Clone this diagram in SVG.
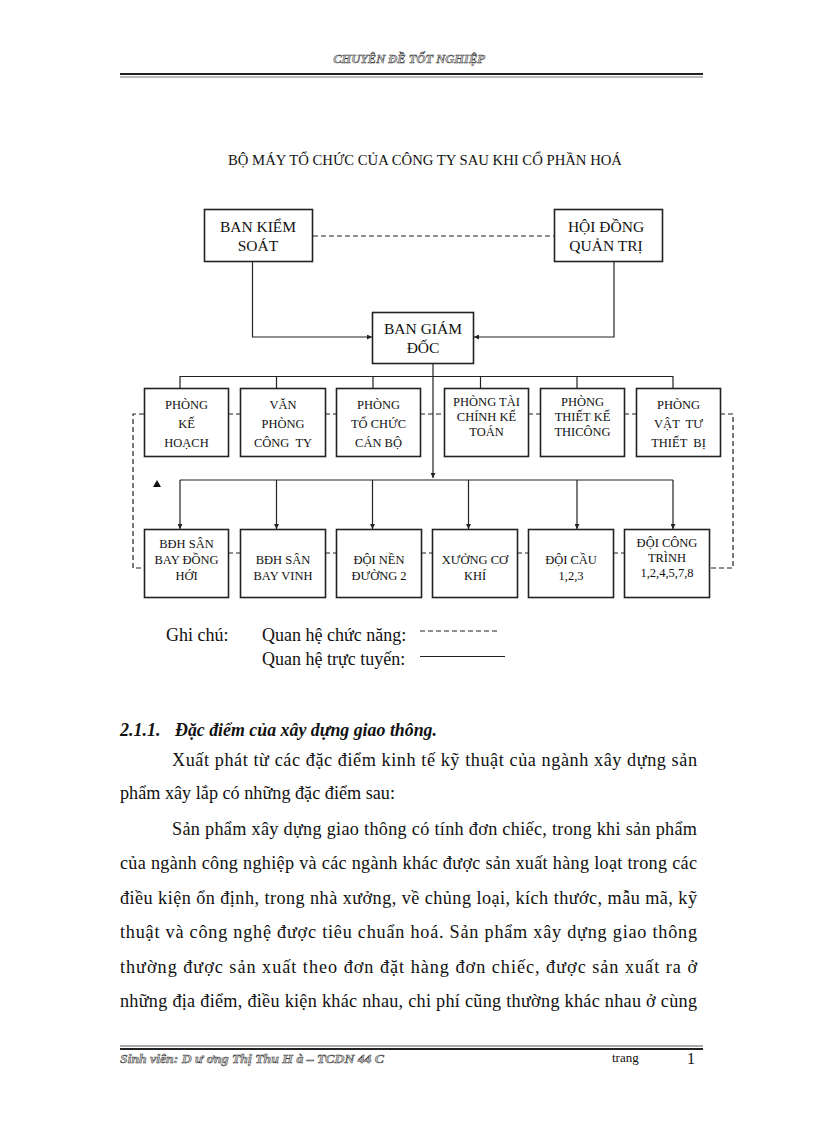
<svg xmlns="http://www.w3.org/2000/svg" width="816" height="1123" viewBox="0 0 816 1123">
<style>
.box{fill:#fff;stroke:#222;stroke-width:1.6}
.solid{fill:none;stroke:#222;stroke-width:1.2}
.dash{fill:none;stroke:#222;stroke-width:1.2;stroke-dasharray:5 3}
.bt{font-family:"Liberation Serif",serif;font-size:15.5px;fill:#111;text-anchor:middle}
.st{font-family:"Liberation Serif",serif;font-size:12.5px;fill:#111;text-anchor:middle}
.body{font-family:"Liberation Serif",serif;font-size:18.2px;fill:#111}
.hdr{font-family:"Liberation Serif",serif;font-style:italic;font-weight:bold;fill:#c8c8c8;stroke:#333;stroke-width:0.45}
</style>
<defs>
<marker id="ah" viewBox="0 0 6 6" refX="6" refY="3" markerWidth="5" markerHeight="5" orient="auto" markerUnits="userSpaceOnUse">
<path d="M0,0 L6,3 L0,6 Z" fill="#222"/>
</marker>
</defs>
<rect width="816" height="1123" fill="#fff"/>

<!-- page header -->
<text class="hdr" x="409" y="63" font-size="12.5" text-anchor="middle">CHUYÊN ĐỀ TỐT NGHIỆP</text>
<line x1="120" y1="74" x2="703" y2="74" stroke="#222" stroke-width="2"/>
<line x1="120" y1="77" x2="703" y2="77" stroke="#777" stroke-width="1"/>

<text x="425" y="165" font-family="Liberation Serif, serif" font-size="14" fill="#111" text-anchor="middle" textLength="394" lengthAdjust="spacingAndGlyphs">BỘ MÁY TỔ CHỨC CỦA CÔNG TY SAU KHI CỔ PHẦN HOÁ</text>

<!-- connectors -->
<g id="connectors">
<line class="dash" x1="313" y1="236" x2="554" y2="236"/>
<path class="solid" d="M252.5 261 V337 H372" marker-end="url(#ah)"/>
<path class="solid" d="M614 261 V337 H474" marker-end="url(#ah)"/>
<path class="solid" d="M433 363 V478" marker-end="url(#ah)"/>
<path class="solid" d="M180 388 V376.5 H673 V388 M276.5 376.5 V388 M373 376.5 V388 M480.5 376.5 V388 M577 376.5 V388"/>
<line class="solid" x1="180" y1="480" x2="673" y2="480" stroke-width="1.8"/>
<path class="solid" d="M180 480 V529" marker-end="url(#ah)"/>
<path class="solid" d="M276.5 480 V529" marker-end="url(#ah)"/>
<path class="solid" d="M372.5 480 V529" marker-end="url(#ah)"/>
<path class="solid" d="M468.5 480 V529" marker-end="url(#ah)"/>
<path class="solid" d="M577 480 V529" marker-end="url(#ah)"/>
<path class="solid" d="M673 480 V529" marker-end="url(#ah)"/>
<path d="M153 487 L157 480 L161 487 Z" fill="#111"/>
<!-- functional (dashed) links -->
<path class="dash" d="M228 414 H240 M325 414 H336 M420 414 H444 M528 414 H540 M624 414 H636"/>
<path class="dash" d="M144 414 H133 V568 H144"/>
<path class="dash" d="M720 414 H733 V568 H709"/>
<path class="dash" d="M228 553 H240 M325 553 H336 M421 553 H432 M517 553 H528 M613 553 H624"/>
</g>

<!-- top nodes -->
<g id="ban-kiem-soat">
<rect class="box" x="204.5" y="209.5" width="108" height="52"/>
<text class="bt" x="258" y="232">BAN KIỂM</text>
<text class="bt" x="258" y="251">SOÁT</text>
</g>
<g id="hoi-dong-quan-tri">
<rect class="box" x="554.5" y="209.5" width="108" height="52"/>
<text class="bt" x="606" y="232">HỘI ĐỒNG</text>
<text class="bt" x="606" y="251">QUẢN TRỊ</text>
</g>
<g id="ban-giam-doc">
<rect class="box" x="372.5" y="312.5" width="101" height="51"/>
<text class="bt" x="423" y="334">BAN GIÁM</text>
<text class="bt" x="423" y="353">ĐỐC</text>
</g>

<!-- row 1 -->
<g id="phong-ke-hoach">
<rect class="box" x="144.5" y="388.5" width="84" height="68"/>
<text class="st" x="186.5" y="409">PHÒNG</text>
<text class="st" x="186.5" y="428">KẾ</text>
<text class="st" x="186.5" y="447">HOẠCH</text>
</g>
<g id="van-phong-cong-ty">
<rect class="box" x="240.5" y="388.5" width="85" height="68"/>
<text class="st" x="283" y="409">VĂN</text>
<text class="st" x="283" y="428">PHÒNG</text>
<text class="st" x="283" y="447" xml:space="preserve">CÔNG  TY</text>
</g>
<g id="phong-to-chuc-can-bo">
<rect class="box" x="336.5" y="388.5" width="84" height="68"/>
<text class="st" x="378.5" y="409">PHÒNG</text>
<text class="st" x="378.5" y="428">TỔ CHỨC</text>
<text class="st" x="378.5" y="447">CÁN BỘ</text>
</g>
<g id="phong-tai-chinh-ke-toan">
<rect class="box" x="444.5" y="388.5" width="84" height="68"/>
<text class="st" x="486.5" y="406">PHÒNG TÀI</text>
<text class="st" x="486.5" y="421">CHÍNH KẾ</text>
<text class="st" x="486.5" y="436">TOÁN</text>
</g>
<g id="phong-thiet-ke-thi-cong">
<rect class="box" x="540.5" y="388.5" width="84" height="68"/>
<text class="st" x="582.5" y="406">PHÒNG</text>
<text class="st" x="582.5" y="421">THIẾT KẾ</text>
<text class="st" x="582.5" y="436">THICÔNG</text>
</g>
<g id="phong-vat-tu-thiet-bi">
<rect class="box" x="636.5" y="388.5" width="84" height="68"/>
<text class="st" x="678.5" y="409">PHÒNG</text>
<text class="st" x="678.5" y="428" xml:space="preserve">VẬT  TƯ</text>
<text class="st" x="678.5" y="447" xml:space="preserve">THIẾT  BỊ</text>
</g>

<!-- row 2 -->
<g id="bdh-dong-hoi">
<rect class="box" x="144.5" y="529.5" width="84" height="68"/>
<text class="st" x="186.5" y="548">BĐH SÂN</text>
<text class="st" x="186.5" y="564">BAY ĐỒNG</text>
<text class="st" x="186.5" y="580">HỚI</text>
</g>
<g id="bdh-vinh">
<rect class="box" x="240.5" y="529.5" width="85" height="68"/>
<text class="st" x="283" y="564">BĐH SÂN</text>
<text class="st" x="283" y="580">BAY VINH</text>
</g>
<g id="doi-nen-duong">
<rect class="box" x="336.5" y="529.5" width="85" height="68"/>
<text class="st" x="379" y="564">ĐỘI NỀN</text>
<text class="st" x="379" y="580">ĐƯỜNG 2</text>
</g>
<g id="xuong-co-khi">
<rect class="box" x="432.5" y="529.5" width="85" height="68"/>
<text class="st" x="475" y="564">XƯỞNG CƠ</text>
<text class="st" x="475" y="580">KHÍ</text>
</g>
<g id="doi-cau">
<rect class="box" x="528.5" y="529.5" width="85" height="68"/>
<text class="st" x="571" y="564">ĐỘI CẦU</text>
<text class="st" x="571" y="580">1,2,3</text>
</g>
<g id="doi-cong-trinh">
<rect class="box" x="624.5" y="529.5" width="85" height="68"/>
<text class="st" x="667" y="547">ĐỘI CÔNG</text>
<text class="st" x="667" y="562">TRÌNH</text>
<text class="st" x="667" y="577">1,2,4,5,7,8</text>
</g>

<!-- legend -->
<g id="legend" font-family="Liberation Serif, serif" font-size="18" fill="#111">
<text x="166" y="641">Ghi chú:</text>
<text x="262" y="641">Quan hệ chức năng:</text>
<text x="262" y="665">Quan hệ trực tuyến:</text>
<line class="dash" x1="420" y1="631" x2="500" y2="631" stroke-dasharray="4 3"/>
<line x1="420" y1="656.5" x2="505" y2="656.5" stroke="#222" stroke-width="1.2"/>
</g>

<!-- body text -->
<text x="120" y="736" font-family="Liberation Serif, serif" font-size="18" font-weight="bold" font-style="italic" fill="#111">2.1.1.</text>
<text x="175" y="736" font-family="Liberation Serif, serif" font-size="18" font-weight="bold" font-style="italic" fill="#111" textLength="262" lengthAdjust="spacingAndGlyphs">Đặc điểm của xây dựng giao thông.</text>
<text class="body" x="172" y="766" textLength="525" lengthAdjust="spacing">Xuất phát từ các đặc điểm kinh tế kỹ thuật của ngành xây dựng sản</text>
<text class="body" x="120" y="799">phẩm xây lắp có những đặc điểm sau:</text>
<text class="body" x="172" y="835" textLength="525" lengthAdjust="spacing">Sản phẩm xây dựng giao thông có tính đơn chiếc, trong khi sản phẩm</text>
<text class="body" x="120" y="869" textLength="577" lengthAdjust="spacing">của ngành công nghiệp và các ngành khác được sản xuất hàng loạt trong các</text>
<text class="body" x="120" y="904" textLength="577" lengthAdjust="spacing">điều kiện ổn định, trong nhà xưởng, về chủng loại, kích thước, mẫu mã, kỹ</text>
<text class="body" x="120" y="938" textLength="577" lengthAdjust="spacing">thuật và công nghệ được tiêu chuẩn hoá. Sản phẩm xây dựng giao thông</text>
<text class="body" x="120" y="973" textLength="577" lengthAdjust="spacing">thường được sản xuất theo đơn đặt hàng đơn chiếc, được sản xuất ra ở</text>
<text class="body" x="120" y="1007" textLength="577" lengthAdjust="spacing">những địa điểm, điều kiện khác nhau, chi phí cũng thường khác nhau ở cùng</text>

<!-- footer -->
<line x1="120" y1="1046" x2="703" y2="1046" stroke="#555" stroke-width="1"/>
<line x1="120" y1="1049" x2="703" y2="1049" stroke="#222" stroke-width="2"/>
<text class="hdr" x="120" y="1063" font-size="12.5" textLength="264" lengthAdjust="spacingAndGlyphs">Sinh viên: D ư ơng Thị Thu H à – TCDN 44 C</text>
<text x="612" y="1062" font-family="Liberation Serif, serif" font-size="13" fill="#111">trang</text>
<text x="687" y="1064" font-family="Liberation Serif, serif" font-size="16" fill="#111">1</text>
</svg>
